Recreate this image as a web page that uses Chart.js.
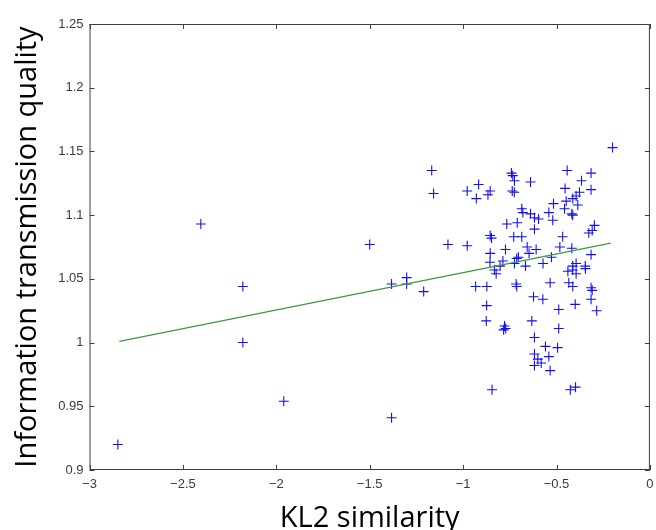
<!DOCTYPE html>
<html>
<head>
<meta charset="utf-8">
<script src="https://cdn.jsdelivr.net/npm/chart.js@4.4.1/dist/chart.umd.min.js"></script>
<style>
  html, body { margin: 0; padding: 0; background: #fff; }
  #wrap { width: 656px; height: 530px; }
</style>
</head>
<body>
<div id="wrap"><canvas id="scatter"></canvas></div>
<script>
// Data
// ------------------------------

var kl2 = [
    -2.848, -2.404, -2.179, -2.179, -1.96, -1.5, -1.383, -1.383, -1.302, -1.302, -1.211,
    -1.168, -1.158, -0.2, -0.443, -0.315, -0.741, -0.734, -0.725, -0.639, -0.917,
    -0.366, -0.454, -0.315, -0.978, -0.855, -0.737, -0.726, -0.867, -0.929, -0.377,
    -0.395, -0.413, -0.448, -0.516, -0.386, -0.457, -0.686, -0.680, -0.639, -0.541,
    -0.418, -0.413, -0.618, -0.596, -0.520, -0.710, -0.766, -0.618, -0.297, -0.309,
    -0.327, -1.081, -0.978, -0.855, -0.848, -0.729, -0.686, -0.467, -0.773, -0.657,
    -0.609, -0.482, -0.418, -0.855, -0.315, -0.647, -0.713, -0.704, -0.527, -0.787,
    -0.856, -0.572, -0.725, -0.666, -0.802, -0.395, -0.346, -0.413, -0.832, -0.823,
    -0.439, -0.413, -0.395, -0.345, -0.933, -0.873, -0.716, -0.713, -0.534, -0.434,
    -0.413, -0.315, -0.309, -0.874, -0.623, -0.573, -0.400, -0.315, -0.285, -0.488,
    -0.876, -0.632, -0.778, -0.783, -0.772, -0.488, -0.618, -0.559, -0.494, -0.618,
    -0.541, -0.600, -0.582, -0.618, -0.534, -0.845, -0.426, -0.398
];

var quality = [
    0.920, 1.093, 1.044, 1.000, 0.954, 1.077, 0.941, 1.046, 1.051, 1.046, 1.040,
    1.135, 1.117, 1.153, 1.135, 1.133, 1.133, 1.131, 1.127, 1.126, 1.124,
    1.127, 1.121, 1.120, 1.119, 1.119, 1.119, 1.118, 1.116, 1.113, 1.118,
    1.115, 1.113, 1.111, 1.109, 1.108, 1.105, 1.105, 1.102, 1.101, 1.102,
    1.101, 1.100, 1.098, 1.097, 1.096, 1.094, 1.093, 1.089, 1.092, 1.088,
    1.086, 1.077, 1.076, 1.084, 1.082, 1.083, 1.083, 1.083, 1.073, 1.075,
    1.073, 1.075, 1.074, 1.070, 1.069, 1.070, 1.066, 1.067, 1.067, 1.064,
    1.063, 1.062, 1.062, 1.060, 1.060, 1.062, 1.060, 1.060, 1.057, 1.054,
    1.056, 1.057, 1.054, 1.058, 1.044, 1.044, 1.046, 1.044, 1.047, 1.047,
    1.044, 1.043, 1.041, 1.029, 1.036, 1.034, 1.030, 1.034, 1.025, 1.026,
    1.017, 1.017, 1.013, 1.010, 1.011, 1.011, 1.004, 0.997, 0.996, 0.991,
    0.989, 0.987, 0.984, 0.982, 0.978, 0.963, 0.963, 0.965
];

// fitted line end points
var fitX = [-2.84, -0.21];
var fitY = [1.001, 1.078];

var xTicks = [-3, -2.5, -2, -1.5, -1, -0.5, 0];
var yTicks = [0.9, 0.95, 1, 1.05, 1.1, 1.15, 1.2, 1.25];

var points = kl2.map(function (v, i) { return {x: v, y: quality[i]}; });
var fitLine = fitX.map(function (v, i) { return {x: v, y: fitY[i]}; });

var axisColor = '#404040';

// Box and inward ticks, MATLAB style
// ------------------------------

var boxPlugin = {
    id: 'box',
    afterDraw: function (chart) {
        var ctx = chart.ctx;
        var a = chart.chartArea;
        var sx = chart.scales.x, sy = chart.scales.y;
        var len = 5;
        ctx.save();
        ctx.strokeStyle = axisColor;
        ctx.lineWidth = 1;
        ctx.strokeRect(a.left + 0.5, a.top + 0.5, a.right - a.left - 1, a.bottom - a.top - 1);
        ctx.beginPath();
        xTicks.forEach(function (t) {
            var px = Math.round(sx.getPixelForValue(t)) + 0.5;
            ctx.moveTo(px, a.bottom); ctx.lineTo(px, a.bottom - len);
            ctx.moveTo(px, a.top); ctx.lineTo(px, a.top + len);
        });
        yTicks.forEach(function (t) {
            var py = Math.round(sy.getPixelForValue(t)) + 0.5;
            ctx.moveTo(a.left, py); ctx.lineTo(a.left + len, py);
            ctx.moveTo(a.right, py); ctx.lineTo(a.right - len, py);
        });
        ctx.stroke();
        ctx.restore();
    }
};

var chart = new Chart(document.getElementById('scatter'), {
    type: 'scatter',
    data: {
        datasets: [
            {
                data: points,
                pointStyle: 'cross',
                pointRadius: 5,
                pointHoverRadius: 5,
                borderColor: '#1010f0',
                borderWidth: 1.1,
                order: 2
            },
            {
                type: 'line',
                data: fitLine,
                borderColor: '#3c9a3c',
                borderWidth: 1.3,
                pointRadius: 0,
                fill: false,
                order: 1
            }
        ]
    },
    plugins: [boxPlugin],
    options: {
        responsive: true,
        maintainAspectRatio: false,
        animation: false,
        layout: {
            padding: {top: 24, right: 0, left: 4, bottom: 0}
        },
        plugins: {
            legend: {display: false},
            tooltip: {enabled: false}
        },
        scales: {
            x: {
                type: 'linear',
                min: -3,
                max: 0,
                afterBuildTicks: function (scale) {
                    scale.ticks = xTicks.map(function (v) { return {value: v}; });
                },
                afterFit: function (scale) {
                    scale.height = 60;
                    scale.paddingRight = 5;
                },
                grid: {display: false, drawTicks: false},
                border: {display: false},
                ticks: {
                    padding: 7,
                    color: '#3a3a3a',
                    font: {family: 'Liberation Sans', size: 13},
                    callback: function (v) { return String(Math.round(v * 10) / 10).replace('-', '\u2212'); }
                },
                title: {
                    display: true,
                    text: 'KL2 similarity',
                    color: '#000',
                    font: {family: 'Open Sans', size: 29},
                    padding: {top: 0, bottom: -6}
                }
            },
            y: {
                type: 'linear',
                min: 0.9,
                max: 1.25,
                afterBuildTicks: function (scale) {
                    scale.ticks = yTicks.map(function (v) { return {value: v}; });
                },
                afterFit: function (scale) { scale.width = 85.5; },
                grid: {display: false, drawTicks: false},
                border: {display: false},
                ticks: {
                    padding: 6,
                    color: '#3a3a3a',
                    font: {family: 'Liberation Sans', size: 13},
                    callback: function (v) { return String(Math.round(v * 100) / 100); }
                },
                title: {
                    display: true,
                    text: 'Information transmission quality',
                    color: '#000',
                    font: {family: 'Open Sans', size: 29},
                    padding: {top: 6, bottom: 0}
                }
            }
        }
    }
});
</script>
</body>
</html>
